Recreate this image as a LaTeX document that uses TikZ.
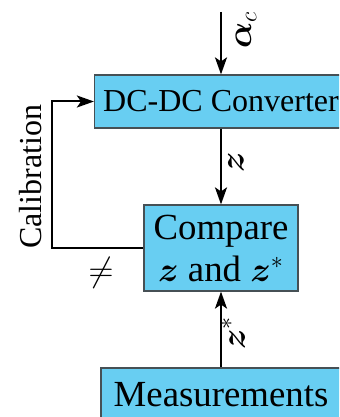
\documentclass[tikz,border=0pt]{standalone}
\usepackage{bm}
\usepackage{fontspec}
\setmainfont{Liberation Serif}
\usetikzlibrary{arrows.meta}
\definecolor{boxfill}{RGB}{104,206,242}
\definecolor{boxline}{RGB}{70,80,85}
\tikzset{
  blk/.style={draw=boxline, line width=0.6pt, fill=boxfill, inner sep=0pt, align=center},
  conn/.style={line width=1pt, -{Stealth[length=8.5pt,width=6pt,inset=2pt]}},
  lbl/.style={rotate=90, inner sep=0pt},
}
\begin{document}
\begin{tikzpicture}[x=0.5pt,y=-0.5pt]
\useasboundingbox (0,0) rectangle (339,417);
\clip (0,0) rectangle (339,417);
\node[blk, minimum width=126.5pt, minimum height=26.5pt, font=\fontsize{16}{19}\selectfont] (dc) at (221,101.5) {DC-DC Converter};
\node[blk, minimum width=77pt, minimum height=43pt, font=\fontsize{18.4}{21}\selectfont] (cmp) at (221,248) {Compare\\$\bm{z}$ and $\bm{z}^{*}$};
\node[blk, minimum width=120pt, minimum height=26.5pt, font=\fontsize{18.4}{21}\selectfont] (meas) at (221,394.5) {Measurements};
\coordinate (top) at (221,12);
\coordinate (bend) at (52,248);
\draw[conn] (top) -- (dc.north);
\draw[conn] (dc.south) -- (cmp.north);
\draw[conn] (meas.north) -- (cmp.south);
\draw[conn] (cmp.west) -- (bend) |- (dc.west);
\node[lbl, font=\fontsize{18}{21}\selectfont] (alpha) at (246,30) {$\bm{\alpha}_{c}$};
\node[lbl, font=\fontsize{18}{21}\selectfont] (zl) at (236,162) {$\bm{z}$};
\node[lbl, font=\fontsize{18}{21}\selectfont] (zsl) at (233,333) {$\bm{z}^{*}$};
\node[lbl, font=\fontsize{16}{19}\selectfont] (cal) at (31,177) {Calibration};
\node[inner sep=0pt, font=\fontsize{18}{21}\selectfont] (neq) at (101,273) {$\neq$};
\end{tikzpicture}
\end{document}
